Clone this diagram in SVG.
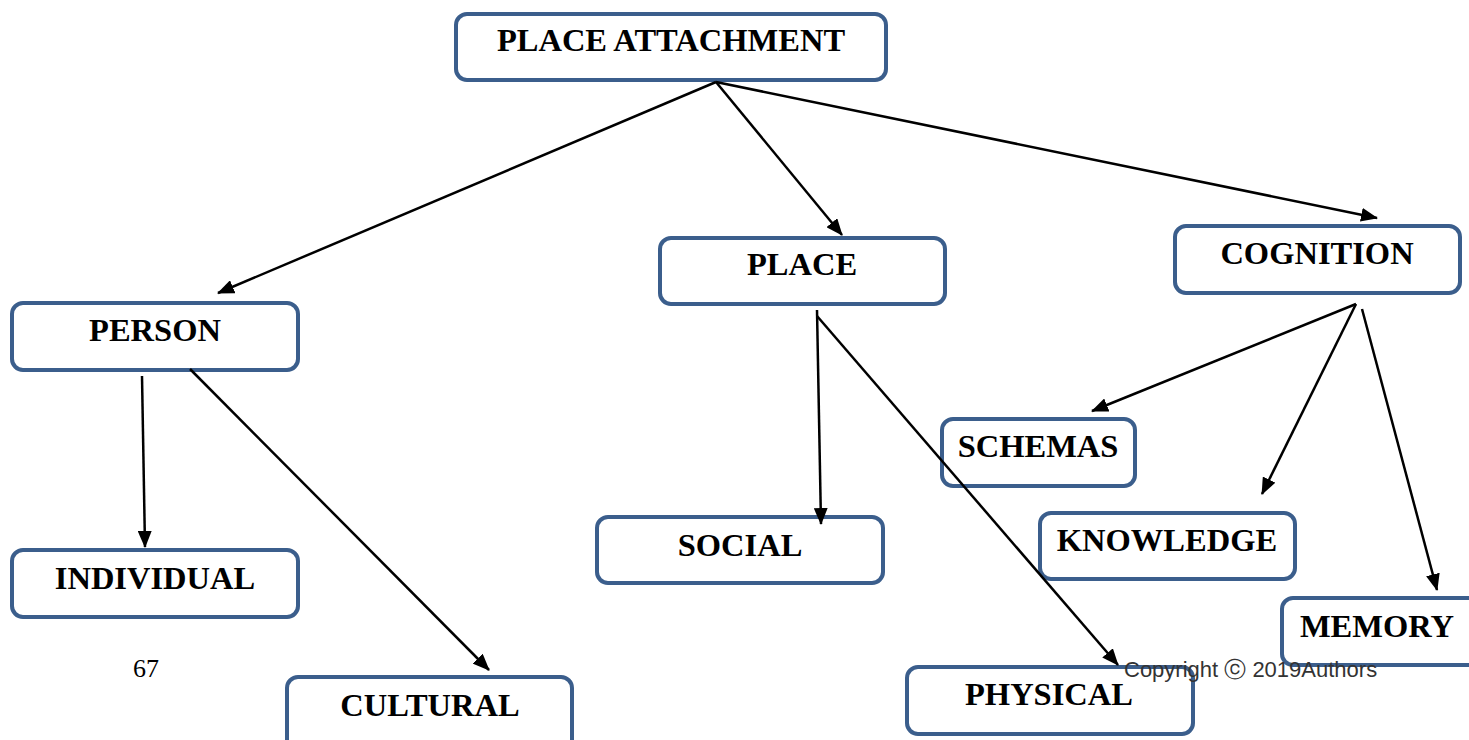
<svg xmlns="http://www.w3.org/2000/svg" width="1469" height="740" viewBox="0 0 1469 740">
<style>
.box{fill:#fff;stroke:#3b5e8c;stroke-width:4}
.lbl{font-family:"Liberation Serif","Times New Roman",serif;font-weight:bold;font-size:32.5px;fill:#000;text-anchor:middle}
.conn{stroke:#000;stroke-width:2.5;fill:none;marker-end:url(#ah)}
</style>
<defs>
<marker id="ah" markerUnits="userSpaceOnUse" markerWidth="17" markerHeight="14" refX="16" refY="7" orient="auto">
<path d="M0,0 L17,7 L0,14 z" fill="#000"/>
</marker>
</defs>
<rect width="1469" height="740" fill="#fff"/>
<g id="nodes">
<g id="place-attachment"><rect class="box" x="456" y="14" width="430" height="66" rx="11"/><text class="lbl" x="671" y="51">PLACE ATTACHMENT</text></g>
<g id="place"><rect class="box" x="660" y="238" width="285" height="66" rx="11"/><text class="lbl" x="802" y="275">PLACE</text></g>
<g id="cognition"><rect class="box" x="1175" y="226" width="285" height="67" rx="11"/><text class="lbl" x="1317" y="264">COGNITION</text></g>
<g id="person"><rect class="box" x="12" y="303" width="286" height="67" rx="11"/><text class="lbl" x="155" y="341">PERSON</text></g>
<g id="schemas"><rect class="box" x="942" y="419" width="193" height="67" rx="11"/><text class="lbl" x="1038" y="457">SCHEMAS</text></g>
<g id="social"><rect class="box" x="597" y="517" width="286" height="66" rx="11"/><text class="lbl" x="740" y="556">SOCIAL</text></g>
<g id="knowledge"><rect class="box" x="1040" y="513" width="255" height="66" rx="11"/><text class="lbl" x="1167" y="551">KNOWLEDGE</text></g>
<g id="individual"><rect class="box" x="12" y="550" width="286" height="67" rx="11"/><text class="lbl" x="155" y="589">INDIVIDUAL</text></g>
<g id="memory"><rect class="box" x="1282" y="598" width="200" height="67" rx="11"/><text class="lbl" x="1377" y="637">MEMORY</text></g>
<g id="cultural"><rect class="box" x="287" y="677" width="285" height="80" rx="11"/><text class="lbl" x="430" y="716">CULTURAL</text></g>
<g id="physical"><rect class="box" x="907" y="667" width="286" height="67" rx="11"/><text class="lbl" x="1049" y="705">PHYSICAL</text></g>
</g>
<g id="connectors">
<line class="conn" x1="716" y1="82" x2="218" y2="293"/>
<line class="conn" x1="716" y1="82" x2="842" y2="235"/>
<line class="conn" x1="716" y1="82" x2="1377" y2="218"/>
<line class="conn" x1="142" y1="376" x2="145" y2="547"/>
<line class="conn" x1="190" y1="369" x2="489" y2="670"/>
<line class="conn" x1="817" y1="310" x2="821" y2="524"/>
<line class="conn" x1="817" y1="316" x2="1118" y2="665"/>
<line class="conn" x1="1356" y1="304" x2="1092" y2="411"/>
<line class="conn" x1="1356" y1="304" x2="1262" y2="494"/>
<line class="conn" x1="1362" y1="309" x2="1437" y2="590"/>
</g>
<text x="146" y="677" font-family="Liberation Serif, Times New Roman, serif" font-size="26" text-anchor="middle">67</text>
<text x="1124" y="677" font-family="Liberation Sans, Arial, sans-serif" font-size="22" fill="#333">Copyright ⓒ 2019Authors</text>
</svg>
